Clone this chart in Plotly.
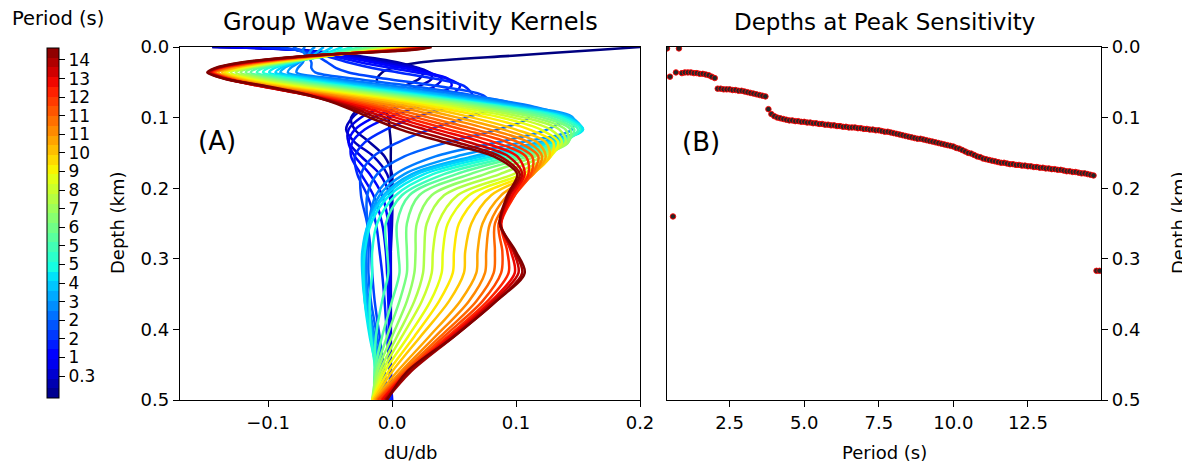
import numpy as np
import plotly.graph_objects as go

# ---------------- data ----------------
depth_grid = [0.0, 0.004, 0.012, 0.022, 0.03, 0.036, 0.045, 0.055, 0.07, 0.085, 0.1, 0.117,
              0.135, 0.155, 0.18, 0.21, 0.25, 0.29, 0.32, 0.36, 0.41, 0.46, 0.5]

k_p0_3 = [0.2, 0.168, 0.1, 0.022, 0.0, -0.008, -0.012, -0.012, -0.01, -0.006, -0.003, -0.002,
          -0.001, -0.001, -0.001, -0.001, -0.001, -0.001, -0.001, -0.001, -0.001, -0.001, -0.001]
k_p0_7 = [-0.145, -0.077, -0.03, 0.005, 0.02, 0.025, 0.022, 0.01, -0.01, -0.025, -0.033, -0.03,
          -0.018, -0.006, 0.0, 0.0, -0.001, -0.001, -0.001, -0.001, -0.001, -0.001, -0.001]
k_p1_1 = [-0.145, -0.077, -0.035, 0.0, 0.022, 0.03, 0.032, 0.022, 0.0, -0.02, -0.032, -0.037,
          -0.03, -0.015, -0.004, 0.0, 0.0, -0.001, -0.001, -0.001, -0.001, -0.001, -0.001]
k_p1_5 = [-0.14, -0.077, -0.04, -0.008, 0.018, 0.03, 0.04, 0.035, 0.015, -0.008, -0.025, -0.035,
          -0.035, -0.025, -0.01, -0.002, -0.001, -0.001, -0.001, -0.001, -0.001, -0.001, -0.001]
k_p1_9 = [-0.13, -0.078, -0.045, -0.015, 0.01, 0.027, 0.045, 0.048, 0.03, 0.005, -0.015, -0.03,
          -0.035, -0.03, -0.018, -0.008, -0.003, -0.002, -0.002, -0.002, -0.002, -0.001, 0.0]
k_p2_3 = [-0.12, -0.078, -0.05, -0.025, 0.0, 0.02, 0.045, 0.055, 0.045, 0.02, -0.003, -0.022,
          -0.032, -0.033, -0.025, -0.015, -0.008, -0.005, -0.004, -0.003, -0.002, -0.001, 0.0]
k_p2_7 = [-0.105, -0.078, -0.055, -0.035, -0.015, 0.005, 0.035, 0.058, 0.065, 0.045, 0.018, -0.005,
          -0.022, -0.03, -0.028, -0.02, -0.013, -0.01, -0.008, -0.006, -0.004, -0.002, -0.001]
k_p3_1 = [-0.09, -0.078, -0.062, -0.052, -0.045, -0.035, -0.005, 0.035, 0.075, 0.08, 0.06, 0.03,
          0.005, -0.015, -0.025, -0.025, -0.02, -0.017, -0.016, -0.014, -0.01, -0.006, -0.003]
k_p3_5 = [-0.08, -0.075, -0.068, -0.065, -0.065, -0.062, -0.03, 0.015, 0.07, 0.105, 0.11, 0.085,
          0.045, 0.01, -0.012, -0.02, -0.02, -0.019, -0.019, -0.017, -0.012, -0.007, -0.004]
k_p3_9 = [-0.07, -0.072, -0.07, -0.072, -0.076, -0.077, -0.045, 0.0, 0.065, 0.115, 0.14, 0.125,
          0.085, 0.035, 0.003, -0.013, -0.019, -0.021, -0.021, -0.019, -0.014, -0.008, -0.005]
k_p4_3 = [-0.062, -0.065, -0.068, -0.075, -0.082, -0.084, -0.055, -0.012, 0.055, 0.11, 0.146, 0.145,
          0.105, 0.052, 0.01, -0.01, -0.019, -0.022, -0.022, -0.02, -0.015, -0.009, -0.006]
k_p4_7 = [-0.055, -0.058, -0.064, -0.077, -0.087, -0.09, -0.062, -0.02, 0.048, 0.105, 0.145, 0.153,
          0.118, 0.065, 0.016, -0.007, -0.019, -0.023, -0.023, -0.021, -0.016, -0.01, -0.007]
k_p5_1 = [-0.048, -0.052, -0.06, -0.078, -0.09, -0.094, -0.068, -0.028, 0.04, 0.1, 0.142, 0.154,
          0.125, 0.072, 0.02, -0.005, -0.019, -0.024, -0.024, -0.022, -0.017, -0.011, -0.008]
k_p5_5 = [-0.04, -0.046, -0.058, -0.08, -0.095, -0.099, -0.074, -0.034, 0.034, 0.096, 0.14, 0.154,
          0.13, 0.08, 0.026, -0.002, -0.017, -0.022, -0.023, -0.022, -0.018, -0.012, -0.009]
k_p6_0 = [-0.032, -0.04, -0.055, -0.082, -0.1, -0.104, -0.08, -0.04, 0.028, 0.092, 0.137, 0.152,
          0.135, 0.088, 0.033, 0.003, -0.012, -0.016, -0.016, -0.018, -0.017, -0.013, -0.01]
k_p6_5 = [-0.024, -0.035, -0.053, -0.084, -0.104, -0.109, -0.086, -0.046, 0.022, 0.088, 0.133, 0.15,
          0.138, 0.096, 0.042, 0.008, -0.005, -0.004, -0.003, -0.008, -0.013, -0.014, -0.012]
k_p7_0 = [-0.016, -0.03, -0.05, -0.086, -0.108, -0.114, -0.092, -0.052, 0.016, 0.083, 0.128, 0.147,
          0.14, 0.103, 0.052, 0.014, 0.004, 0.005, 0.006, 0.0, -0.008, -0.014, -0.014]
k_p7_5 = [-0.008, -0.025, -0.05, -0.088, -0.112, -0.118, -0.097, -0.058, 0.01, 0.076, 0.122, 0.144,
          0.142, 0.11, 0.063, 0.022, 0.012, 0.012, 0.012, 0.006, -0.004, -0.013, -0.015]
k_p8_0 = [-0.002, -0.02, -0.05, -0.09, -0.115, -0.122, -0.102, -0.064, 0.004, 0.069, 0.115, 0.14,
          0.142, 0.116, 0.075, 0.032, 0.02, 0.019, 0.018, 0.012, 0.0, -0.012, -0.016]
k_p8_5 = [0.003, -0.016, -0.05, -0.092, -0.118, -0.126, -0.107, -0.07, -0.003, 0.061, 0.107, 0.135,
          0.14, 0.122, 0.087, 0.042, 0.028, 0.026, 0.025, 0.018, 0.004, -0.01, -0.016]
k_p9_0 = [0.006, -0.012, -0.05, -0.095, -0.12, -0.13, -0.112, -0.076, -0.01, 0.052, 0.098, 0.128,
          0.137, 0.126, 0.098, 0.053, 0.037, 0.033, 0.032, 0.024, 0.008, -0.008, -0.016]
k_p9_5 = [0.009, -0.009, -0.051, -0.097, -0.123, -0.133, -0.116, -0.082, -0.017, 0.043, 0.088, 0.12,
          0.134, 0.128, 0.105, 0.062, 0.045, 0.041, 0.04, 0.031, 0.013, -0.006, -0.016]
k_p10_0 = [0.012, -0.006, -0.052, -0.1, -0.126, -0.135, -0.12, -0.088, -0.024, 0.034, 0.077, 0.111,
           0.13, 0.128, 0.11, 0.071, 0.054, 0.05, 0.049, 0.038, 0.018, -0.003, -0.016]
k_p10_5 = [0.015, -0.003, -0.053, -0.102, -0.128, -0.137, -0.123, -0.093, -0.031, 0.025, 0.065, 0.1,
           0.124, 0.127, 0.113, 0.08, 0.064, 0.059, 0.058, 0.046, 0.023, 0.0, -0.015]
k_p11_0 = [0.018, 0.0, -0.055, -0.105, -0.13, -0.14, -0.126, -0.098, -0.038, 0.015, 0.053, 0.09,
           0.117, 0.124, 0.114, 0.088, 0.073, 0.069, 0.068, 0.055, 0.03, 0.004, -0.014]
k_p11_5 = [0.02, 0.003, -0.057, -0.108, -0.133, -0.142, -0.128, -0.102, -0.044, 0.005, 0.042, 0.079,
           0.11, 0.121, 0.114, 0.093, 0.079, 0.076, 0.075, 0.062, 0.035, 0.007, -0.013]
k_p12_0 = [0.022, 0.005, -0.058, -0.11, -0.135, -0.143, -0.13, -0.104, -0.05, -0.005, 0.03, 0.068,
           0.102, 0.118, 0.113, 0.097, 0.083, 0.083, 0.082, 0.068, 0.039, 0.009, -0.012]
k_p12_5 = [0.024, 0.007, -0.06, -0.112, -0.137, -0.144, -0.131, -0.106, -0.054, -0.012, 0.02, 0.057,
           0.093, 0.113, 0.112, 0.099, 0.086, 0.089, 0.088, 0.073, 0.042, 0.011, -0.011]
k_p13_0 = [0.026, 0.009, -0.061, -0.114, -0.139, -0.145, -0.132, -0.107, -0.058, -0.018, 0.011, 0.046,
           0.083, 0.108, 0.11, 0.099, 0.088, 0.093, 0.094, 0.077, 0.045, 0.012, -0.009]
k_p13_5 = [0.028, 0.011, -0.062, -0.116, -0.14, -0.146, -0.133, -0.108, -0.061, -0.024, 0.003, 0.036,
           0.073, 0.101, 0.107, 0.097, 0.088, 0.096, 0.099, 0.08, 0.047, 0.013, -0.008]
k_p14_0 = [0.03, 0.013, -0.063, -0.118, -0.141, -0.147, -0.134, -0.107, -0.063, -0.03, -0.005, 0.027,
           0.062, 0.094, 0.105, 0.095, 0.087, 0.098, 0.102, 0.082, 0.049, 0.014, -0.006]
k_p14_5 = [0.031, 0.016, -0.064, -0.12, -0.142, -0.148, -0.135, -0.105, -0.064, -0.034, -0.012, 0.016,
           0.052, 0.087, 0.103, 0.094, 0.087, 0.099, 0.105, 0.084, 0.05, 0.015, -0.005]
k_p14_9 = [0.032, 0.018, -0.065, -0.122, -0.143, -0.149, -0.135, -0.103, -0.063, -0.038, -0.018, 0.007,
           0.042, 0.082, 0.101, 0.093, 0.087, 0.1, 0.107, 0.084, 0.05, 0.012, -0.004]

kernel_periods = [0.3, 0.7, 1.1, 1.5, 1.9, 2.3, 2.7, 3.1, 3.5, 3.9, 4.3, 4.7, 5.1, 5.5, 6.0, 6.5,
                  7.0, 7.5, 8.0, 8.5, 9.0, 9.5, 10.0, 10.5, 11.0, 11.5, 12.0, 12.5, 13.0, 13.5,
                  14.0, 14.5, 14.9]
kernels = [k_p0_3, k_p0_7, k_p1_1, k_p1_5, k_p1_9, k_p2_3, k_p2_7, k_p3_1, k_p3_5, k_p3_9, k_p4_3,
           k_p4_7, k_p5_1, k_p5_5, k_p6_0, k_p6_5, k_p7_0, k_p7_5, k_p8_0, k_p8_5, k_p9_0, k_p9_5,
           k_p10_0, k_p10_5, k_p11_0, k_p11_5, k_p12_0, k_p12_5, k_p13_0, k_p13_5, k_p14_0,
           k_p14_5, k_p14_9]

peak_periods = [
    0.4, 0.5, 0.6, 0.7, 0.8, 0.9, 1.0, 1.1, 1.2, 1.3,
    1.4, 1.5, 1.6, 1.7, 1.8, 1.9, 2.0, 2.1, 2.2, 2.3,
    2.4, 2.5, 2.6, 2.7, 2.8, 2.9, 3.0, 3.1, 3.2, 3.3,
    3.4, 3.5, 3.6, 3.7, 3.8, 3.9, 4.0, 4.1, 4.2, 4.3,
    4.4, 4.5, 4.6, 4.7, 4.8, 4.9, 5.0, 5.1, 5.2, 5.3,
    5.4, 5.5, 5.6, 5.7, 5.8, 5.9, 6.0, 6.1, 6.2, 6.3,
    6.4, 6.5, 6.6, 6.7, 6.8, 6.9, 7.0, 7.1, 7.2, 7.3,
    7.4, 7.5, 7.6, 7.7, 7.8, 7.9, 8.0, 8.1, 8.2, 8.3,
    8.4, 8.5, 8.6, 8.7, 8.8, 8.9, 9.0, 9.1, 9.2, 9.3,
    9.4, 9.5, 9.6, 9.7, 9.8, 9.9, 10.0, 10.1, 10.2, 10.3,
    10.4, 10.5, 10.6, 10.7, 10.8, 10.9, 11.0, 11.1, 11.2, 11.3,
    11.4, 11.5, 11.6, 11.7, 11.8, 11.9, 12.0, 12.1, 12.2, 12.3,
    12.4, 12.5, 12.6, 12.7, 12.8, 12.9, 13.0, 13.1, 13.2, 13.3,
    13.4, 13.5, 13.6, 13.7, 13.8, 13.9, 14.0, 14.1, 14.2, 14.3,
    14.4, 14.5, 14.6, 14.7, 14.8, 14.9]
peak_depths = [
    0.002, 0.042, 0.240, 0.036, 0.002, 0.037, 0.036, 0.036, 0.036, 0.037,
    0.037, 0.038, 0.038, 0.039, 0.040, 0.042, 0.044, 0.059, 0.059, 0.060,
    0.060, 0.060, 0.061, 0.061, 0.062, 0.062, 0.063, 0.064, 0.065, 0.066,
    0.067, 0.068, 0.069, 0.070, 0.088, 0.095, 0.098, 0.100, 0.101, 0.102,
    0.103, 0.104, 0.104, 0.105, 0.105, 0.106, 0.106, 0.107, 0.107, 0.108,
    0.108, 0.109, 0.109, 0.110, 0.110, 0.111, 0.111, 0.112, 0.112, 0.113,
    0.113, 0.114, 0.114, 0.114, 0.115, 0.115, 0.116, 0.116, 0.117, 0.117,
    0.118, 0.118, 0.119, 0.120, 0.120, 0.121, 0.122, 0.123, 0.124, 0.125,
    0.126, 0.127, 0.128, 0.129, 0.130, 0.130, 0.131, 0.132, 0.133, 0.134,
    0.135, 0.136, 0.137, 0.138, 0.139, 0.140, 0.141, 0.143, 0.144, 0.146,
    0.148, 0.150, 0.151, 0.153, 0.155, 0.156, 0.158, 0.159, 0.160, 0.161,
    0.162, 0.163, 0.164, 0.164, 0.165, 0.166, 0.166, 0.167, 0.167, 0.168,
    0.168, 0.169, 0.169, 0.170, 0.170, 0.171, 0.171, 0.172, 0.172, 0.173,
    0.173, 0.174, 0.174, 0.175, 0.176, 0.176, 0.177, 0.177, 0.178, 0.179,
    0.179, 0.180, 0.181, 0.182, 0.317, 0.317]

cbar_labels = ["0.3", "1", "2", "2", "3", "4", "5", "5", "6", "7", "8", "9", "10", "11", "11",
               "12", "13", "14"]
depth_ticks = [0.0, 0.1, 0.2, 0.3, 0.4, 0.5]
kern_ticks = [-0.1, 0.0, 0.1, 0.2]
kern_ticktext = ["\u22120.1", "0.0", "0.1", "0.2"]
period_ticks = [2.5, 5.0, 7.5, 10.0, 12.5]

# ---------------- style helpers ----------------
# The page body has an 8 px margin; the figure is sized and positioned so that the
# final screenshot (1190x466) lines up with the reference pixel layout.
OFF = 8
W, H = 1190 - OFF, 466 - OFF
P_MIN, P_MAX = 0.3, 14.9
FONT = "DejaVu Sans"


def jet(f):
    r = np.interp(f, [0, 0.35, 0.66, 0.89, 1], [0, 0, 1, 1, 0.5])
    g = np.interp(f, [0, 0.125, 0.375, 0.64, 0.91, 1], [0, 0, 1, 1, 0, 0])
    b = np.interp(f, [0, 0.11, 0.34, 0.65, 1], [0.5, 1, 1, 0, 0])
    return "rgb(%d,%d,%d)" % (round(r * 255), round(g * 255), round(b * 255))


def px(x):
    return (x - OFF) / W


def py(y):
    return 1 - (y - OFF) / H


n_bands = 36
jet_steps = []
for i in range(n_bands):
    c = jet((i + 0.5) / n_bands)
    jet_steps.append([i / n_bands, c])
    jet_steps.append([(i + 1) / n_bands, c])

fig = go.Figure()

for per, vals in zip(kernel_periods, kernels):
    fig.add_trace(go.Scatter(
        x=vals, y=depth_grid, mode="lines",
        line=dict(color=jet((per - P_MIN) / (P_MAX - P_MIN)), width=2.5, shape="spline",
                  smoothing=0.9),
        showlegend=False, xaxis="x", yaxis="y", hoverinfo="skip"))

# colorbar carrier
cb_top, cb_bot = 48, 398
cb_len = cb_bot - cb_top
cb_tickvals = [P_MIN + (P_MAX - P_MIN) * (22 + j * 18.59) / cb_len for j in range(len(cbar_labels))]
fig.add_trace(go.Scatter(
    x=[None], y=[None], mode="markers", showlegend=False, xaxis="x", yaxis="y",
    marker=dict(color=[P_MIN], cmin=P_MIN, cmax=P_MAX, colorscale=jet_steps, showscale=True,
                colorbar=dict(
                    thickness=12, thicknessmode="pixels", len=cb_len, lenmode="pixels",
                    x=px(47), xanchor="left", y=py((cb_top + cb_bot) / 2), yanchor="middle",
                    xpad=0, ypad=0, outlinewidth=1, outlinecolor="black",
                    tickmode="array", tickvals=cb_tickvals, ticktext=cbar_labels,
                    ticks="outside", ticklen=6, tickwidth=1, tickcolor="black",
                    tickfont=dict(family=FONT, size=17, color="black")))))

fig.add_trace(go.Scatter(
    x=peak_periods, y=peak_depths, mode="markers",
    marker=dict(size=5.5, color="#262626", line=dict(color="red", width=0.9)),
    showlegend=False, xaxis="x2", yaxis="y2", hoverinfo="skip"))

axis_common = dict(showline=True, linecolor="black", linewidth=1.3, mirror=True,
                   ticks="outside", ticklen=6, tickwidth=1.3, tickcolor="black",
                   showgrid=False, zeroline=False, automargin=False,
                   tickfont=dict(family=FONT, size=18, color="black"))

fig.update_layout(
    width=W, height=H, paper_bgcolor="white", plot_bgcolor="white",
    margin=dict(l=0, r=0, t=0, b=0, autoexpand=False),
    xaxis=dict(domain=[px(180), px(640)], range=[-0.171, 0.2], anchor="y",
               tickmode="array", tickvals=kern_ticks, ticktext=kern_ticktext, **axis_common),
    yaxis=dict(domain=[py(400), py(47)], range=[0.5, 0.0], anchor="x",
               tickmode="array", tickvals=depth_ticks,
               ticktext=["%.1f" % v for v in depth_ticks], **axis_common),
    xaxis2=dict(domain=[px(667), px(1101)], range=[0.4, 14.95], anchor="y2",
                tickmode="array", tickvals=period_ticks,
                ticktext=["%.1f" % v for v in period_ticks], **axis_common),
    yaxis2=dict(domain=[py(400), py(47)], range=[0.5, 0.0], anchor="x2", side="right",
                tickmode="array", tickvals=depth_ticks,
                ticktext=["%.1f" % v for v in depth_ticks], **axis_common),
)


def ann(text, x, y, size, angle=0):
    fig.add_annotation(text=text, x=px(x), y=py(y), xref="paper", yref="paper",
                       showarrow=False, textangle=angle, xanchor="center", yanchor="middle",
                       font=dict(family=FONT, size=size, color="black"))


ann("Group Wave Sensitivity Kernels", 410, 22, 24)
ann("Depths at Peak Sensitivity", 884, 22, 23)
ann("dU/db", 411, 452, 18)
ann("Period (s)", 884, 452, 18)
ann("Depth (km)", 117, 223, 18, -90)
ann("Depth (km)", 1178, 223, 18, -90)
ann("(A)", 217, 141, 26)
ann("(B)", 701, 142, 26)
ann("Period (s)", 58, 18, 19.5)

fig.write_html("out.html")
